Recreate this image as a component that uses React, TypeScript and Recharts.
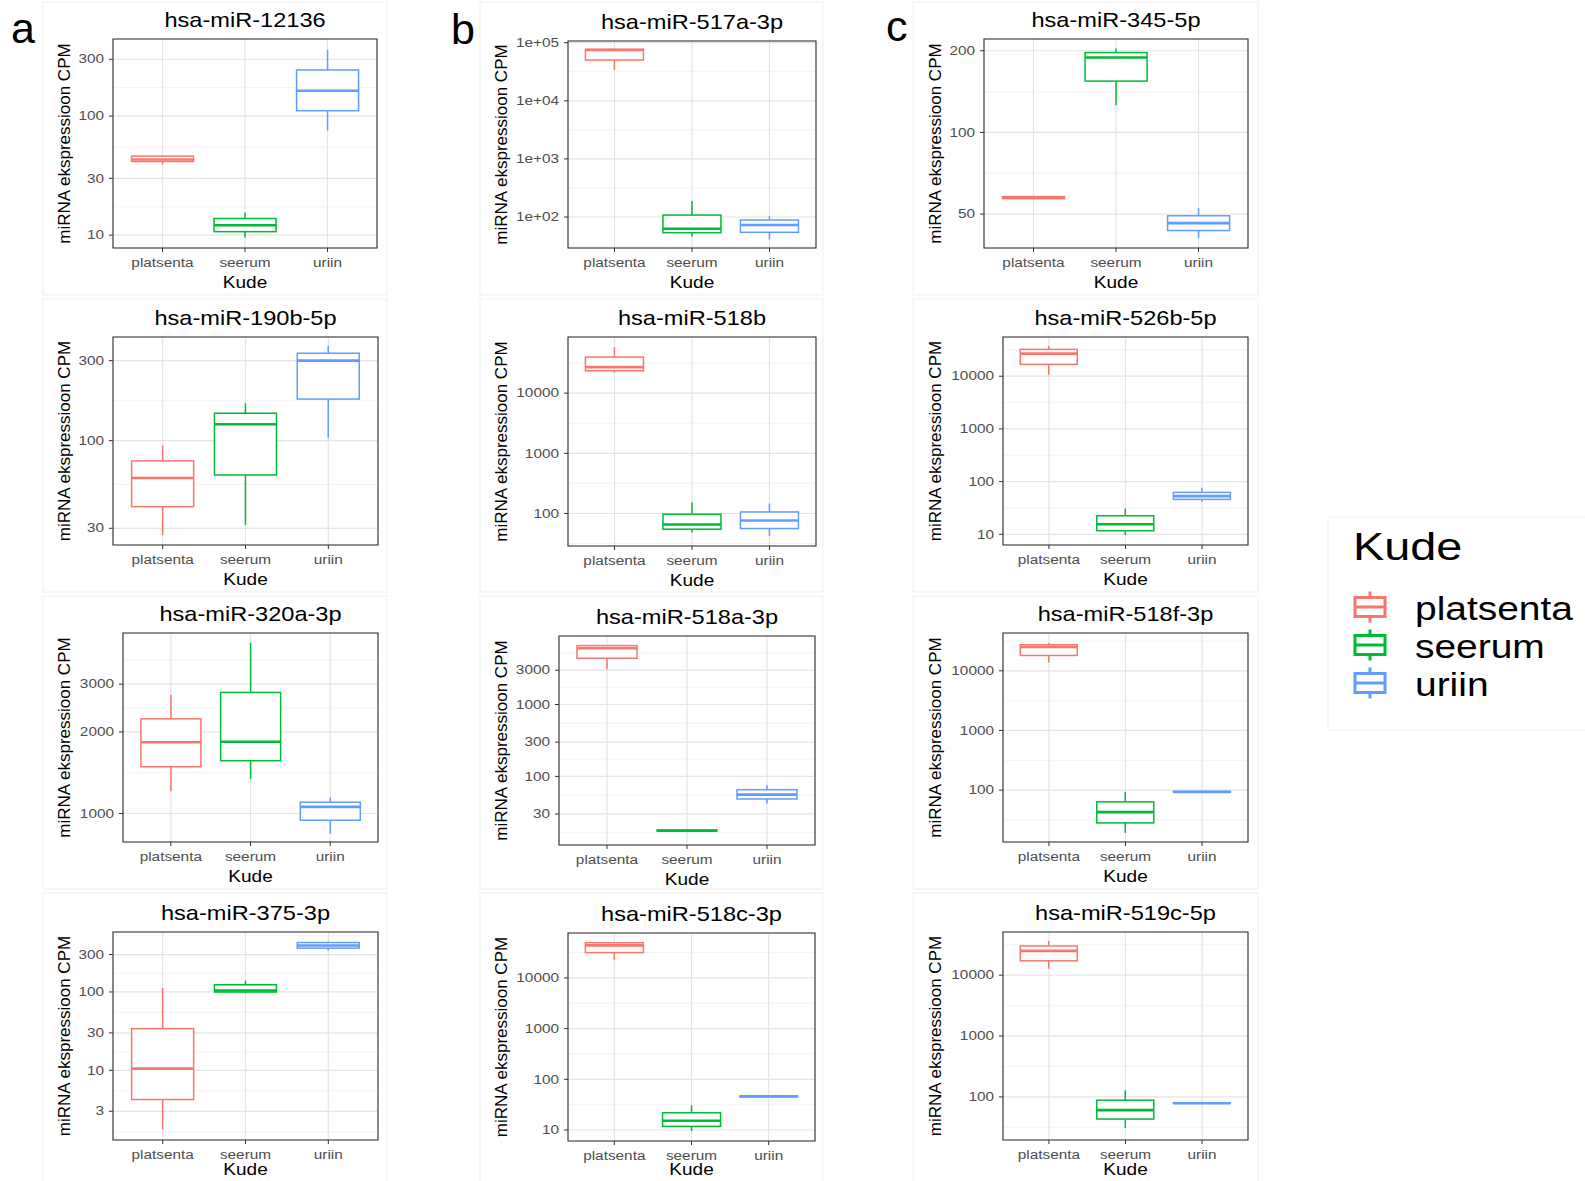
import React from 'react';
import { ComposedChart, Bar, XAxis, YAxis, CartesianGrid } from 'recharts';

const FONT = "'Liberation Sans', Arial, Helvetica, sans-serif";

// ---------------- DATA ----------------
const categories = ['platsenta', 'seerum', 'uriin'];
const legendTitle = 'Kude';
const yTitle = 'miRNA ekspressioon CPM';

// each row: [min, q1, median, q3, max] for platsenta, seerum, uriin
const miR12136 = [[39.3, 41.6, 43.2, 46.1, 46.5], [9.5, 10.7, 12.1, 13.8, 15.5], [75.7, 111, 163, 244, 360]];
const miR517a3p = [[33900, 50300, 74800, 76900, 78000], [45.8, 53.7, 63, 108, 188], [41.3, 54.5, 72.8, 88.8, 104]];
const miR3455p = [[56.8, 57, 57.5, 58, 58.3], [126, 154.6, 189, 197, 204], [40.8, 43.5, 46.3, 49.3, 52.6]];
const miR190b5p = [[27.4, 40.4, 59.9, 75.7, 93.4], [31.4, 62.4, 125.3, 145.7, 167], [104, 177, 300, 332, 367]];
const miR518b = [[22000, 23500, 27100, 39800, 58400], [48.2, 54.8, 65.6, 97.4, 152], [42.4, 56.2, 76.5, 106, 146.8]];
const miR526b5p = [[10700, 16800, 26800, 32300, 37300], [9.7, 11.7, 15.5, 22.5, 31], [41.4, 46, 53.1, 62.4, 76.4]];
const miR320a3p = [[1209, 1488, 1832, 2235, 2743], [1340, 1566, 1840, 2797, 4263], [843, 944.5, 1058, 1101, 1146]];
const miR518a3p = [[3102, 4410, 6070, 6595, 6700], [17.3, 17.4, 17.6, 17.8, 17.9], [41.8, 48.5, 55.7, 65.3, 75]];
const miR518f3p = [[13800, 18070, 25000, 27350, 29200], [19.2, 28.2, 42.7, 63.6, 93.6], [92, 92.8, 93.6, 94.4, 95]];
const miR3753p = [[1.76, 4.24, 10.5, 34, 112], [99.5, 99.7, 104.5, 123.5, 140], [338, 362, 391, 427, 440]];
const miR518c3p = [[22200, 31500, 43800, 49500, 50000], [9.56, 11.8, 15.2, 21.9, 31], [45, 45.5, 46, 46.5, 47]];
const miR519c5p = [[12700, 17200, 25100, 30200, 36500], [30.8, 43.3, 60.6, 88.4, 128.6], [78, 78.5, 78.9, 79.4, 80]];

const titles = [
  'hsa-miR-12136', 'hsa-miR-517a-3p', 'hsa-miR-345-5p',
  'hsa-miR-190b-5p', 'hsa-miR-518b', 'hsa-miR-526b-5p',
  'hsa-miR-320a-3p', 'hsa-miR-518a-3p', 'hsa-miR-518f-3p',
  'hsa-miR-375-3p', 'hsa-miR-518c-3p', 'hsa-miR-519c-5p',
];
const stats = [miR12136, miR517a3p, miR3455p, miR190b5p, miR518b, miR526b5p, miR320a3p, miR518a3p, miR518f3p, miR3753p, miR518c3p, miR519c5p];

// y domains (log10 scale)
const domains = [
  [7.8, 444], [29.3, 107000], [37.5, 221],
  [23.85, 415], [28.8, 85800], [6.27, 55500],
  [785, 4634], [11.1, 8980], [13.5, 43000],
  [1.29, 582], [6.07, 76900], [19.6, 51200],
];
const tickValues = [
  [10, 30, 100, 300], [100, 1000, 10000, 100000], [50, 100, 200],
  [30, 100, 300], [100, 1000, 10000], [10, 100, 1000, 10000],
  [1000, 2000, 3000], [30, 100, 300, 1000, 3000], [100, 1000, 10000],
  [3, 10, 30, 100, 300], [10, 100, 1000, 10000], [100, 1000, 10000],
];
const sciLabels = ['1e+02', '1e+03', '1e+04', '1e+05'];
const panelLetters = ['a', 'b', 'c'];

// ---------------- LAYOUT ----------------
const colors = ['#F8766D', '#00BA38', '#619CFF'];
// plot rectangles [left, right, top, bottom]
const plotRects = [
  [113, 377, 39, 248], [568, 816, 41, 248], [984, 1248, 39, 248],
  [113, 378, 337, 545], [568, 816, 337, 546], [1003, 1248, 337, 545],
  [123, 378, 633, 842], [559, 815, 636, 845], [1003, 1248, 633, 842],
  [113, 378, 932, 1140], [568, 815, 933, 1141], [1003, 1248, 932, 1140],
];
const colBoxes = [[43, 387], [480, 823], [913, 1258]];
const rowTops = [2, 299, 596, 893];
const yTitleX = [64, 501, 935];
const letterPos = [[11, 43], [451, 44], [886, 41]];
const SX = 1.28;
const TSX = 1.18;
const YW = 70;
const MT = 12;
const MR = 12;
const XH = 40;

function minorBreaks(ticks: number[], dom: number[]) {
  const b = ticks.map((t) => Math.log10(t));
  const lo = Math.log10(dom[0]);
  const hi = Math.log10(dom[1]);
  const ext = [...b];
  if (lo < b[0]) ext.unshift(b[0] - (b[1] - b[0]));
  if (hi > b[b.length - 1]) ext.push(b[b.length - 1] + (b[b.length - 1] - b[b.length - 2]));
  const res: number[] = [];
  for (let i = 0; i < ext.length - 1; i++) {
    const m = (ext[i] + ext[i + 1]) / 2;
    if (m > lo && m < hi) res.push(Math.pow(10, m));
  }
  return res;
}

const WhiskerShape = (props: any) => {
  const { x, y, width, height, index } = props;
  const cx = x + width / 2;
  return <line x1={cx} x2={cx} y1={y} y2={y + height} stroke={colors[index]} strokeWidth={1.5} />;
};
const BoxShape = (props: any) => {
  const { x, y, width, height, index } = props;
  const top = Math.min(y, y + height);
  const h = Math.abs(height);
  return <rect x={x} y={top} width={width} height={h} fill="#ffffff" stroke={colors[index]} strokeWidth={1.5} />;
};
const MedianShape = (props: any) => {
  const { x, y, width, height, index } = props;
  const top = Math.min(y, y + height);
  return <line x1={x} x2={x + width} y1={top} y2={top} stroke={colors[index]} strokeWidth={2.6} />;
};

const Panel = ({ idx }: { idx: number }) => {
  const [L, R, T, B] = plotRects[idx];
  const s = stats[idx];
  const dom = domains[idx];
  const ticks = tickValues[idx];
  const minors = minorBreaks(ticks, dom);
  const useSci = idx === 1;
  const data = categories.map((k, i) => ({
    k,
    whisk: [s[i][0], s[i][4]],
    box: [s[i][1], s[i][3]],
    med: [s[i][1], s[i][2]],
  }));
  const pw = R - L;
  const pad = { left: pw / 32, right: pw / 32 };
  const width = YW + pw + MR;
  const height = MT + (B - T) + XH;
  const yTick = (p: any) => {
    const v = p.payload.value;
    const label = useSci ? sciLabels[ticks.indexOf(v)] : String(v);
    return (
      <g transform={`translate(${p.x},${p.y}) scale(${SX},1)`}>
        <text textAnchor="end" dy="0.35em" fontSize={12} fill="#4d4d4d" fontFamily={FONT}>{label}</text>
      </g>
    );
  };
  const xTick = (p: any) => (
    <g transform={`translate(${p.x},${p.y}) scale(${SX},1)`}>
      <text textAnchor="middle" dy="0.71em" fontSize={12} fill="#4d4d4d" fontFamily={FONT}>{p.payload.value}</text>
    </g>
  );
  return (
    <div style={{ position: 'absolute', left: L - YW, top: T - MT, zIndex: 1 }}>
      <ComposedChart width={width} height={height} data={data} margin={{ top: MT, right: MR, left: 0, bottom: 0 }} barCategoryGap="12.5%">
        <CartesianGrid horizontalValues={minors} vertical={false} stroke="#f0f0f0" strokeWidth={0.8} />
        <CartesianGrid horizontalValues={ticks} stroke="#e4e4e4" strokeWidth={1.2} />
        <XAxis dataKey="k" padding={pad} tickSize={4} tickMargin={6} axisLine={false} tickLine={{ stroke: '#333' }} height={XH} interval={0} tick={xTick} />
        <XAxis xAxisId="w" dataKey="k" padding={pad} hide />
        <XAxis xAxisId="m" dataKey="k" padding={pad} hide />
        <YAxis scale="log" type="number" domain={dom} allowDataOverflow ticks={ticks} interval={0} width={YW} tickSize={4} tickMargin={5} axisLine={false} tickLine={{ stroke: '#333' }} tick={yTick} />
        <Bar xAxisId="w" dataKey="whisk" isAnimationActive={false} shape={WhiskerShape} />
        <Bar dataKey="box" isAnimationActive={false} shape={BoxShape} />
        <Bar xAxisId="m" dataKey="med" isAnimationActive={false} shape={MedianShape} />
      </ComposedChart>
    </div>
  );
};

export default function App() {
  const idxs = titles.map((_, i) => i);
  return (
    <div style={{ position: 'absolute', left: 0, top: 0, width: 1585, height: 1181, background: '#fff', overflow: 'hidden' }}>
      <svg width={1585} height={1181} style={{ position: 'absolute', left: 0, top: 0, zIndex: 0 }}>
        {rowTops.map((rt, r) =>
          colBoxes.map((cb, c) => (
            <rect key={`${r}-${c}`} x={cb[0]} y={rt} width={cb[1] - cb[0]} height={293} fill="#fff" stroke="#efefef" strokeWidth={1} />
          ))
        )}
        <rect x={1328} y={517} width={300} height={213} fill="#fff" stroke="#efefef" strokeWidth={1} />
      </svg>
      {idxs.map((i) => <Panel key={i} idx={i} />)}
      <svg width={1585} height={1181} style={{ position: 'absolute', left: 0, top: 0, zIndex: 2, pointerEvents: 'none' }}>
        {idxs.map((i) => {
          const [L, R, T, B] = plotRects[i];
          const col = i % 3;
          const cx = (L + R) / 2;
          const kudeY = Math.min(B + 40, 1175);
          return (
            <g key={i}>
              <rect x={L} y={T} width={R - L} height={B - T} fill="none" stroke="#333" strokeWidth={1.1} />
              <g transform={`translate(${cx},${T - 12}) scale(${TSX},1)`}>
                <text textAnchor="middle" fontSize={20} fill="#000" fontFamily={FONT}>{titles[i]}</text>
              </g>
              <g transform={`translate(${cx},${kudeY}) scale(1.12,1)`}>
                <text textAnchor="middle" fontSize={17} fill="#000" fontFamily={FONT}>{legendTitle}</text>
              </g>
              <g transform={`translate(${yTitleX[col]},${(T + B) / 2}) rotate(-90)`}>
                <text textAnchor="middle" dy="0.35em" fontSize={17} fill="#000" fontFamily={FONT}>{yTitle}</text>
              </g>
            </g>
          );
        })}
        {panelLetters.map((l, c) => (
          <text key={l} x={letterPos[c][0]} y={letterPos[c][1]} fontSize={43} fill="#000" fontFamily={FONT}>{l}</text>
        ))}
        <g transform={`translate(1353,560) scale(1.2,1)`}>
          <text fontSize={39} fill="#000" fontFamily={FONT}>{legendTitle}</text>
        </g>
        {categories.map((cat, i) => {
          const cy = 607 + i * 38;
          return (
            <g key={cat}>
              <line x1={1370} x2={1370} y1={cy - 15.5} y2={cy + 15.5} stroke={colors[i]} strokeWidth={3} />
              <rect x={1355} y={cy - 9.5} width={30} height={19} fill="#fff" stroke={colors[i]} strokeWidth={3} />
              <line x1={1355} x2={1385} y1={cy} y2={cy} stroke={colors[i]} strokeWidth={3} />
              <g transform={`translate(1415,${cy + 13}) scale(${TSX},1)`}>
                <text fontSize={33} fill="#000" fontFamily={FONT}>{cat}</text>
              </g>
            </g>
          );
        })}
      </svg>
    </div>
  );
}
